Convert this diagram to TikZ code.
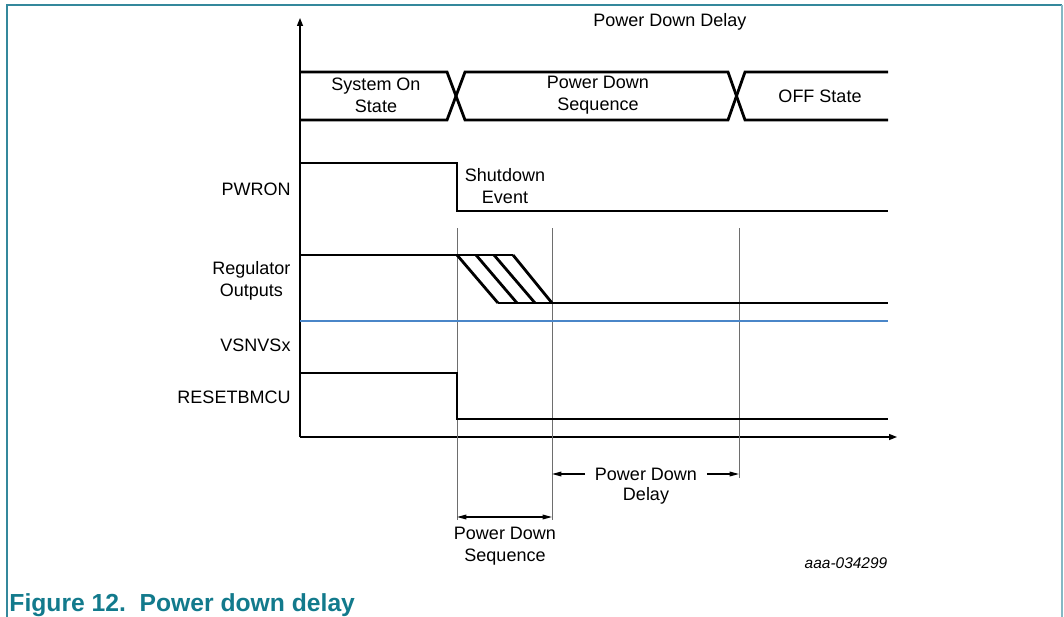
\documentclass[tikz,border=0pt]{standalone}
\usepackage{fontspec}
\setmainfont{Liberation Sans}
\usetikzlibrary{arrows.meta}
\definecolor{frameteal}{RGB}{52,136,156}
\definecolor{captionteal}{RGB}{18,122,140}
\definecolor{railblue}{RGB}{74,134,200}
\tikzset{every picture/.style={line width=0.75pt}}
\tikzset{
  signal/.style={line width=2.1pt, line join=miter},
  guide/.style={color={rgb, 255:red, 110; green, 110; blue, 110}, line width=0.7pt},
  axis/.style={line width=1pt, -{Triangle[length=6pt,width=4.5pt]}},
  dimtip/.style={line width=0.9pt, -{Triangle[length=7pt,width=3.5pt]}},
  dimboth/.style={line width=0.9pt, {Triangle[length=7pt,width=3.5pt]}-{Triangle[length=7pt,width=3.5pt]}},
  label/.style={inner sep=0.75pt, align=center}
}

\begin{document}
\begin{tikzpicture}[x=0.75pt,y=0.75pt,yscale=-1,xscale=1,font=\fontsize{13.5}{16.5}\selectfont]
\useasboundingbox (0,0) rectangle (1064,617);

%Frame
\draw [frameteal, line width=1.2pt] (7,617) -- (7,5) -- (1062,5) ;
\draw [frameteal!60, line width=1.2pt] (1062,5) -- (1062,617) ;

%Axes
\coordinate (origin) at (300,437);
\draw [axis] (origin) -- (300,18) ;
\draw [axis] (origin) -- (897,437) ;

%Time marks
\coordinate (tSd) at (457,0);
\coordinate (tEnd) at (552,0);
\coordinate (tOff) at (739,0);

%State bus
\draw [signal] (300,72) -- (447,72) -- (465,120) -- (728,120) -- (745,72) -- (888,72) ;
\draw [signal] (300,120) -- (447,120) -- (465,72) -- (728,72) -- (745,120) -- (888,120) ;

%PWRON
\draw [signal] (300,163) -- (457,163) -- (457,211) -- (888,211) ;

%Guide lines
\draw [guide] (tSd |- 0,228) -- (tSd |- 0,520) ;
\draw [guide] (tEnd |- 0,228) -- (tEnd |- 0,520) ;
\draw [guide] (tOff |- 0,228) -- (tOff |- 0,478) ;

%Regulator outputs
\draw [signal] (300,255) -- (513,255) ;
\draw [signal] (498,303) -- (888,303) ;
\foreach \xt/\xb in {457/498, 476/517, 494/535, 513/552}
  \draw [signal] (\xt,255) -- (\xb,303) ;

%VSNVSx
\draw [railblue, line width=2.1pt] (300,321) -- (888,321) ;

%RESETBMCU
\draw [signal] (300,373) -- (457,373) -- (457,419) -- (888,419) ;

% Text Node
\node [label] (ttlDelay) at (670,22) {Power Down Delay};
\node [label] (stOn) at (376,95) {System On\\State};
\node [label] (stSeq) at (598,95) {Power Down\\Sequence};
\node [label] (stOff) at (820,96) {OFF State};
\node [label] (evSd) at (505,186) {Shutdown\\Event};
\node [label, anchor=east] (lbPwron) at (292,189) {PWRON};
\node [label, anchor=east] (lbReg) at (292,281) {Regulator\\Outputs};
\node [label, anchor=east] (lbVsnvs) at (292,345) {VSNVSx};
\node [label, anchor=east] (lbReset) at (292,397) {RESETBMCU};

%Power down delay span
\node [label, inner sep=7pt] (pdDelay) at (646,474) {Power Down};
\node [label] (pdDelayB) at (646,496) {Delay};
\draw [dimtip] (pdDelay.west) -- (tEnd |- pdDelay.west) ;
\draw [dimtip] (pdDelay.east) -- (tOff |- pdDelay.east) ;

%Power down sequence span
\coordinate (seqL) at (tSd |- 0,517);
\coordinate (seqR) at (tEnd |- 0,517);
\draw [dimboth] (seqL) -- (seqR) ;
\node [label] (pdSeq) at (505,546) {Power Down\\Sequence};

\node [label, font=\itshape\fontsize{11.6}{14}\selectfont] (figId) at (846,563) {aaa-034299};

%Caption
\node [label, anchor=west, text=captionteal, font=\bfseries\fontsize{18.5}{20}\selectfont] (caption) at (8,605) {Figure 12.\ \ Power down delay};

\end{tikzpicture}
\end{document}
